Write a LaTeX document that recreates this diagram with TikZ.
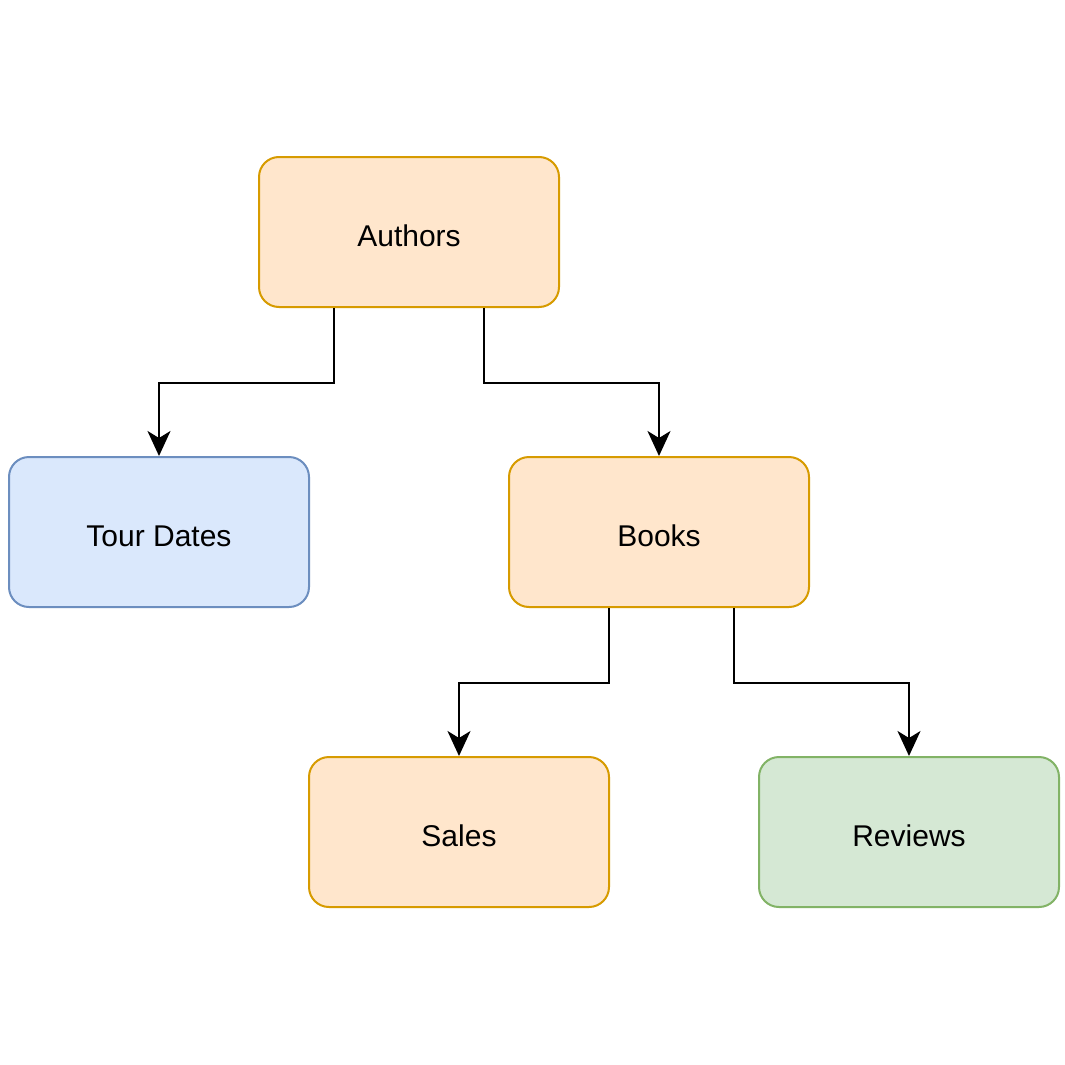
\documentclass[tikz,border=0pt]{standalone}
\usepackage{fontspec}
\setmainfont{Liberation Sans}
\usetikzlibrary{arrows.meta}
\definecolor{orfill}{HTML}{FFE6CC}
\definecolor{ordraw}{HTML}{D79B00}
\definecolor{blfill}{HTML}{DAE8FC}
\definecolor{bldraw}{HTML}{6C8EBF}
\definecolor{grfill}{HTML}{D5E8D4}
\definecolor{grdraw}{HTML}{82B366}
\begin{document}
\begin{tikzpicture}[x=1pt,y=-1pt,
  box/.style={rectangle, rounded corners=20pt, line width=2pt, minimum width=300pt, minimum height=150pt, inner sep=0pt, text height=28pt, text depth=0pt, font=\fontsize{30}{34}\selectfont},
  orbox/.style={box, draw=ordraw, fill=orfill},
  blbox/.style={box, draw=bldraw, fill=blfill},
  grbox/.style={box, draw=grdraw, fill=grfill},
  conn/.style={line width=2pt, -{Stealth[length=25pt,width=23pt,inset=7pt]}}]
\useasboundingbox (0,0) rectangle (1065,1065);
\fill[white] (0,0) rectangle (1065,1065);
\node[orbox] (authors) at (409,232) {Authors};
\node[blbox] (tour) at (159,532) {Tour Dates};
\node[orbox] (books) at (659,532) {Books};
\node[orbox] (sales) at (459,832) {Sales};
\node[grbox] (reviews) at (909,832) {Reviews};
\draw[conn] ([xshift=-75pt]authors.south) -- ++(0,75) -| (tour.north);
\draw[conn] ([xshift=75pt]authors.south) -- ++(0,75) -| (books.north);
\draw[conn] ([xshift=-50pt]books.south) -- ++(0,75) -| (sales.north);
\draw[conn] ([xshift=75pt]books.south) -- ++(0,75) -| (reviews.north);
\end{tikzpicture}
\end{document}
